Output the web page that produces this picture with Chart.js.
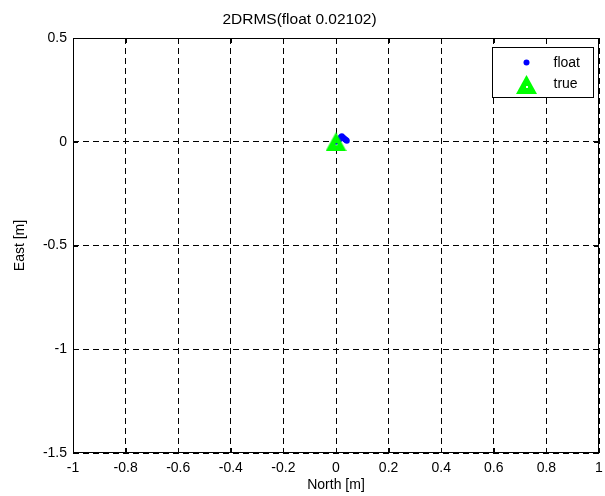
<!DOCTYPE html>
<html>
<head>
<meta charset="utf-8">
<script src="https://cdn.jsdelivr.net/npm/chart.js@4/dist/chart.umd.min.js"></script>
<style>
  html, body { margin: 0; padding: 0; background: #fff; }
  #wrap { width: 605px; height: 496px; }
</style>
</head>
<body>
<div id="wrap"><canvas id="c" width="605" height="496"></canvas></div>
<script>
// Position solutions (metres)
const floatNorth = [0.000, 0.012, 0.018, 0.022, 0.026, 0.030, 0.034, 0.038, 0.041];
const floatEast  = [0.000, 0.010, 0.022, 0.026, 0.021, 0.017, 0.012, 0.008, 0.005];
const trueNorth = [0];
const trueEast  = [0];

const titleText = '2DRMS(float 0.02102)';
const xLabel = 'North [m]';
const yLabel = 'East [m]';
const xRange = [-1, 1];
const yRange = [-1.5, 0.5];
const xStep = 0.2;
const yStep = 0.5;

const FONT = '"Liberation Sans", Arial, Helvetica, sans-serif';

// Filled triangle marker with a small hole in the middle
function makeTriangle() {
  const c = document.createElement('canvas');
  c.width = 21; c.height = 19;
  const g = c.getContext('2d');
  g.fillStyle = '#00ff00';
  g.beginPath();
  g.moveTo(0, 19);
  g.lineTo(10.5, 0);
  g.lineTo(21, 19);
  g.closePath();
  g.fill();
  g.clearRect(10, 11, 2, 2);
  return c;
}
const triangleImg = makeTriangle();

const toPoints = (xs, ys) => xs.map((x, i) => ({ x: x, y: ys[i] }));

// Axes frame with inward tick marks on all four sides
const framePlugin = {
  id: 'frame',
  afterDatasetsDraw(chart) {
    const { ctx, chartArea: a, scales } = chart;
    ctx.save();
    ctx.strokeStyle = '#000';
    ctx.lineWidth = 1;
    ctx.setLineDash([]);
    ctx.beginPath();
    const tl = 5;
    scales.x.ticks.forEach((t, i) => {
      const px = Math.round(scales.x.getPixelForTick(i)) + 0.5;
      ctx.moveTo(px, a.bottom); ctx.lineTo(px, a.bottom - tl);
      ctx.moveTo(px, a.top); ctx.lineTo(px, a.top + tl);
    });
    scales.y.ticks.forEach((t, i) => {
      const py = Math.round(scales.y.getPixelForTick(i)) + 0.5;
      ctx.moveTo(a.left, py); ctx.lineTo(a.left + tl, py);
      ctx.moveTo(a.right, py); ctx.lineTo(a.right - tl, py);
    });
    ctx.stroke();
    ctx.strokeRect(Math.round(a.left) + 0.5, Math.round(a.top) + 0.5,
                   Math.round(a.right - a.left) - 1, Math.round(a.bottom - a.top) - 1);
    ctx.restore();
  }
};

// Boxed legend in the upper right corner
const boxLegendPlugin = {
  id: 'boxLegend',
  afterDraw(chart) {
    const { ctx, chartArea: a } = chart;
    const w = 101, h = 50;
    const x0 = Math.round(a.right) - 6 - w + 0.5;
    const y0 = Math.round(a.top) + 9 + 0.5;
    ctx.save();
    ctx.fillStyle = '#fff';
    ctx.fillRect(x0, y0, w, h);
    ctx.strokeStyle = '#000';
    ctx.lineWidth = 1;
    ctx.strokeRect(x0, y0, w, h);
    const mx = x0 + 34, tx = x0 + 61;
    const rows = [y0 + 15, y0 + 36];
    chart.data.datasets.forEach((ds, i) => {
      const y = rows[i];
      if (ds.pointStyle === 'circle') {
        ctx.fillStyle = ds.backgroundColor;
        ctx.beginPath();
        ctx.arc(mx, y, ds.pointRadius, 0, Math.PI * 2);
        ctx.fill();
      } else {
        ctx.drawImage(ds.pointStyle, mx - ds.pointStyle.width / 2, y - ds.pointStyle.height / 2 + 1);
      }
      ctx.fillStyle = '#000';
      ctx.font = '14px ' + FONT;
      ctx.textBaseline = 'middle';
      ctx.textAlign = 'left';
      ctx.fillText(ds.label, tx, y + 1);
    });
    ctx.restore();
  }
};

const fmt = v => String(Math.round(v * 10) / 10);

new Chart(document.getElementById('c'), {
  type: 'scatter',
  data: {
    datasets: [
      {
        label: 'float',
        data: toPoints(floatNorth, floatEast),
        pointStyle: 'circle',
        pointRadius: 3,
        backgroundColor: '#0000ff',
        borderColor: '#0000ff',
        borderWidth: 0,
        order: 1
      },
      {
        label: 'true',
        data: toPoints(trueNorth, trueEast),
        pointStyle: triangleImg,
        pointRadius: 10,
        backgroundColor: '#00ff00',
        order: 0
      }
    ]
  },
  options: {
    responsive: false,
    animation: false,
    events: [],
    layout: { autoPadding: false, padding: { left: 0, right: 6, top: 0, bottom: 0 } },
    plugins: {
      legend: { display: false },
      tooltip: { enabled: false },
      title: {
        display: true,
        text: titleText,
        color: '#000',
        font: { family: FONT, size: 15.5, weight: 'normal', lineHeight: 1.2 },
        padding: { top: 10.5, bottom: 8.9 }
      }
    },
    scales: {
      x: {
        type: 'linear',
        min: xRange[0], max: xRange[1],
        afterFit(s) { s.height = 43; s.paddingLeft = 0; s.paddingRight = 0; },
        border: { display: false, dash: [6, 4] },
        grid: { color: '#000', lineWidth: 1, drawTicks: false },
        ticks: {
          stepSize: xStep, padding: 7, color: '#000', maxRotation: 0, autoSkip: false,
          font: { family: FONT, size: 14 },
          callback: v => fmt(v)
        },
        title: {
          display: true, text: xLabel, color: '#000',
          font: { family: FONT, size: 14, lineHeight: 1.2 },
          padding: { top: 0, bottom: 2 }
        }
      },
      y: {
        type: 'linear',
        min: yRange[0], max: yRange[1],
        afterFit(s) { s.width = 73; s.paddingTop = 0; s.paddingBottom = 0; },
        border: { display: false, dash: [6, 4] },
        grid: { color: '#000', lineWidth: 1, drawTicks: false },
        ticks: {
          stepSize: yStep, padding: 6, color: '#000', autoSkip: false,
          font: { family: FONT, size: 14 },
          callback: v => fmt(v)
        },
        title: {
          display: true, text: yLabel, color: '#000',
          font: { family: FONT, size: 14, lineHeight: 1.2 },
          padding: { top: 12, bottom: 0 }
        }
      }
    }
  },
  plugins: [framePlugin, boxLegendPlugin]
});
</script>
</body>
</html>
